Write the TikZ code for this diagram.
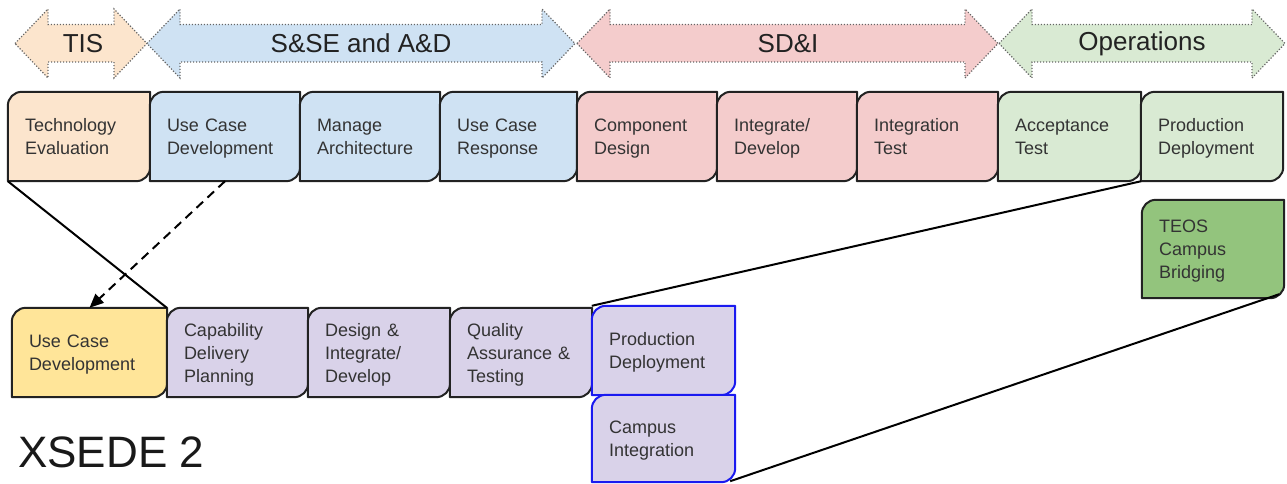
\documentclass[tikz,border=0pt]{standalone}
\usepackage{fontspec}
\setmainfont{Liberation Sans}
\usetikzlibrary{arrows.meta,calc}
\pgfdeclarelayer{background}
\pgfsetlayers{background,main}
\definecolor{peach}{HTML}{FCE5CD}
\definecolor{lblue}{HTML}{CFE2F3}
\definecolor{lpink}{HTML}{F4CCCC}
\definecolor{lgreen}{HTML}{D9EAD3}
\definecolor{lpurple}{HTML}{D9D2E9}
\definecolor{lyellow}{HTML}{FFE599}
\definecolor{dgreen}{HTML}{93C47D}
\definecolor{outl}{HTML}{222222}
\definecolor{txt}{HTML}{333333}
\definecolor{bblue}{HTML}{1A1AF0}
\tikzset{
  boxtxt/.style={inner xsep=17pt, inner ysep=0pt, align=left, text=txt,
    font=\fontsize{18}{23}\selectfont},
  stdbox/.style={draw=outl, line width=2pt, line join=round},
  bluebox/.style={draw=bblue, line width=2pt, line join=round},
  phase/.style={draw=black!60, line width=1.2pt, dash pattern=on 1.2pt off 1.8pt},
  phasetxt/.style={text=outl, font=\fontsize{26}{30}\selectfont, inner sep=0pt},
  conn/.style={draw=black, line width=2pt},
  dconn/.style={draw=black, line width=2pt, dash pattern=on 9pt off 6pt,
    -{Triangle[length=14pt,width=12pt]}}
}
% #1 name, #2 x1, #3 y1 (down), #4 x2, #5 y2 (down), #6 style, #7 text
\newcommand\stagebox[7]{%
  \pgfmathsetmacro\sbw{#4-#2}%
  \pgfmathsetmacro\sbh{#5-#3}%
  \pgfmathsetmacro\sbtw{#4-#2-34}%
  \pgfmathsetmacro\sbx{(#2+#4)/2}%
  \pgfmathsetmacro\sby{-(#3+#5)/2}%
  \node[boxtxt, minimum width=\sbw pt, minimum height=\sbh pt, text width=\sbtw pt] (#1) at (\sbx,\sby) {\rule{0pt}{13pt}#7\par\kern-\prevdepth\hrule height 0pt depth 0pt width 0pt};
  \begin{pgfonlayer}{background}
  \path[#6] (#1.south west) -- ([yshift=-14pt]#1.north west)
     arc[start angle=180,end angle=90,radius=14pt] -- (#1.north east)
     -- ([yshift=14pt]#1.south east) arc[start angle=0,end angle=-90,radius=14pt] -- cycle;
  \end{pgfonlayer}
}
% #1 left, #2 right, #3 fill
\newcommand\phasearrow[3]{%
  \path[phase, fill=#3] (#1,-43.5) -- (#1+33,-9) -- (#1+33,-24.5) -- (#2-33,-24.5)
    -- (#2-33,-9) -- (#2,-43.5) -- (#2-33,-78) -- (#2-33,-62) -- (#1+33,-62)
    -- (#1+33,-78) -- cycle;
}
\begin{document}
\begin{tikzpicture}[x=1pt,y=1pt]
\useasboundingbox (0,0) rectangle (1287,-484);
% phase arrows
\phasearrow{15}{147}{peach}
\phasearrow{147}{575}{lblue}
\phasearrow{577}{998}{lpink}
\phasearrow{999}{1285}{lgreen}
\node[phasetxt] (tis) at (83,-43.5) {TIS};
\node[phasetxt] (sse) at (361,-43.5) {S\&SE and A\&D};
\node[phasetxt] (sdi) at (788,-43.5) {SD\&I};
\node[phasetxt] (ops) at (1142,-43.5) {Operations};
% top row
\stagebox{te}{8}{92}{150}{181}{stdbox, fill=peach}{Technology\\Evaluation}
\stagebox{ucd}{150}{92}{300}{181}{stdbox, fill=lblue}{Use Case\\Development}
\stagebox{ma}{300}{92}{440}{181}{stdbox, fill=lblue}{Manage\\Architecture}
\stagebox{ucr}{440}{92}{577}{181}{stdbox, fill=lblue}{Use Case\\Response}
\stagebox{cd}{577}{92}{717}{181}{stdbox, fill=lpink}{Component\\Design}
\stagebox{id}{717}{92}{857}{181}{stdbox, fill=lpink}{Integrate/\\Develop}
\stagebox{it}{857}{92}{998}{181}{stdbox, fill=lpink}{Integration\\Test}
\stagebox{at}{998}{92}{1141}{181}{stdbox, fill=lgreen}{Acceptance\\Test}
\stagebox{pd}{1141}{92}{1283}{181}{stdbox, fill=lgreen}{Production\\Deployment}
% TEOS
\stagebox{teos}{1142}{200}{1284}{298}{stdbox, fill=dgreen}{TEOS\\Campus\\Bridging}
% bottom row
\stagebox{yucd}{12}{308}{167}{397}{stdbox, fill=lyellow}{Use Case\\Development}
\stagebox{cdp}{167}{308}{308}{397}{stdbox, fill=lpurple}{Capability\\Delivery\\Planning}
\stagebox{did}{308}{308}{450}{397}{stdbox, fill=lpurple}{Design \&\\Integrate/\\Develop}
\stagebox{qat}{450}{308}{592}{397}{stdbox, fill=lpurple}{Quality\\Assurance \&\\Testing}
\stagebox{bpd}{592}{306}{735}{395}{bluebox, fill=lpurple}{Production\\Deployment}
\stagebox{bci}{592}{395}{735}{482}{bluebox, fill=lpurple}{Campus\\Integration}
% title
\node[anchor=base west, inner sep=0pt, font=\fontsize{44}{50}\selectfont, text=black!90] (title) at (18,-467) {XSEDE 2};
% connectors
\draw[conn] (te.south west) -- (cdp.north west);
\draw[dconn] (ucd.south) -- (yucd.north);
\draw[conn] (at.south east) -- (bpd.north west);
\draw[conn] ([xshift=-5pt,yshift=4pt]teos.south east) -- ([xshift=-5pt,yshift=1pt]bci.south east);
\end{tikzpicture}
\end{document}
